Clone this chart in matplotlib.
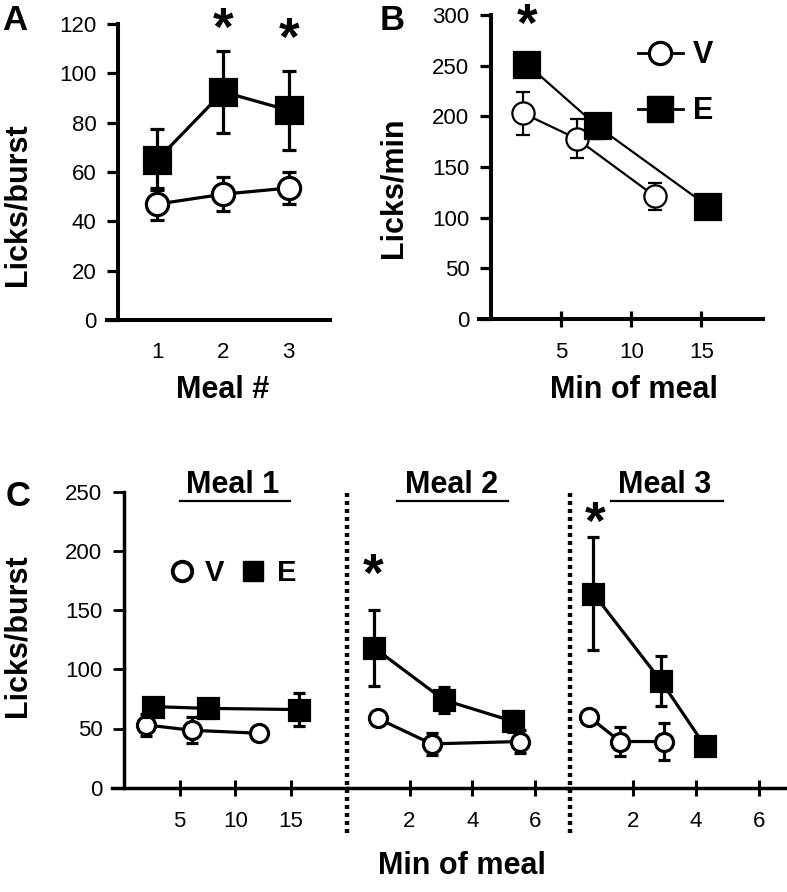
import matplotlib
matplotlib.use('Agg')
import matplotlib.pyplot as plt
from matplotlib.lines import Line2D

plt.rcParams['font.family'] = ['Liberation Sans', 'DejaVu Sans']

# ---- data ----
# A: licks/burst per meal
meal_num = [1, 2, 3]
a_v = [47, 51, 53.5]
a_v_err = [6.5, 7, 6.5]
a_e = [65, 92.5, 85]
a_e_err = [12.5, 16.5, 16]
a_star_x = [2, 3]
a_star_y = [117, 113]

# B: licks/min across the meal
b_v_x = [2.3, 6.1, 11.7]
b_v = [203, 178, 121]
b_v_err = [21, 19, 13]
b_e_x = [2.6, 7.6, 15.5]
b_e = [251, 190, 111]
b_e_err = [5, 12, 8]
b_star_x = [2.6]
b_star_y = [288]

# C: licks/burst within each meal
c_titles = ['Meal 1', 'Meal 2', 'Meal 3']
c_xlims = [(0, 20), (0, 7), (-0.1, 6.9)]
c_xticks = [[5, 10, 15], [2, 4, 6], [2, 4, 6]]
c_v_x = [[2.0, 6.1, 12.1], [0.99, 2.7, 5.5], [0.6, 1.6, 3.0]]
c_v = [[53, 48.5, 46], [58.5, 37, 39], [60, 39, 39]]
c_v_err = [[9, 11, 3], [3, 9, 10], [3, 12.5, 16]]
c_e_x = [[2.6, 7.5, 15.7], [0.88, 3.1, 5.3], [0.75, 2.9, 4.3]]
c_e = [[68.5, 67, 66], [118, 74, 56], [164, 90, 35]]
c_e_err = [[5, 8, 14], [32, 11, 9], [48, 21, 3]]
c_star_x = [[], [0.83], [0.8]]
c_star_y = [[], [178], [222]]

W, H = 787, 892
fig = plt.figure(figsize=(W / 100, H / 100), dpi=100)
LAB = dict(fontsize=22, fontweight='bold', ha='center', va='center')


def px_axes(x0, x1, y_top, y_bot):
    return fig.add_axes([x0 / W, 1 - y_bot / H, (x1 - x0) / W, (y_bot - y_top) / H])


def px_text(x, y, s, **kw):
    fig.text(x / W, 1 - y / H, s, **kw)


def style(ax, spw, left=True):
    for s in ['top', 'right']:
        ax.spines[s].set_visible(False)
    ax.spines['bottom'].set_linewidth(spw)
    ax.spines['left'].set_linewidth(spw)
    ax.spines['left'].set_visible(left)
    ax.tick_params(axis='y', direction='out', length=8, width=spw * 0.8,
                   labelsize=16, pad=7.5)
    ax.set_facecolor('none')


def series(ax, x, y, err, marker, fill, ms, lw, cap, z):
    ax.errorbar(x, y, yerr=err, fmt='none', ecolor='k', elinewidth=lw,
                capsize=cap, capthick=lw, zorder=z)
    ax.plot(x, y, '-', color='k', lw=lw, marker=marker, ms=ms, mfc=fill,
            mec='k', mew=lw, zorder=z + 0.5, clip_on=False)


def stars(ax, xs, ys, size=38):
    for x, y in zip(xs, ys):
        ax.text(x, y, '*', ha='center', va='center', fontsize=size,
                fontweight='bold')


# 1. Panel A
axA = px_axes(118, 330, 24, 320)
style(axA, 2.9)
series(axA, meal_num, a_v, a_v_err, 'o', 'white', 16, 2.3, 5, 3)
series(axA, meal_num, a_e, a_e_err, 's', 'black', 19, 2.3, 5, 3)
axA.set_xlim(0.4, 3.63)
axA.set_ylim(0, 120)
axA.set_yticks(range(0, 121, 20))
axA.set_xticks(meal_num)
axA.tick_params(axis='x', length=0, labelsize=16, pad=16)
axA.spines['bottom'].set_bounds(0.23, 3.63)
stars(axA, a_star_x, a_star_y)
px_text(18, 205, 'Licks/burst', rotation=90, **LAB)
px_text(223, 390, 'Meal #', **LAB)
px_text(15, 21, 'A', fontsize=25, fontweight='bold', ha='center', va='center')

# 2. Panel B
axB = px_axes(491, 763, 15, 319)
style(axB, 2.9)
series(axB, b_v_x, b_v, b_v_err, 'o', 'white', 16, 1.6, 5, 3)
series(axB, b_e_x, b_e, b_e_err, 's', 'black', 19, 1.6, 5, 3)
axB.set_xlim(0, 19.4)
axB.set_ylim(0, 300)
axB.set_yticks(range(0, 301, 50))
axB.set_xticks([5, 10, 15])
axB.tick_params(axis='x', direction='inout', length=11, width=2.3,
                labelsize=16, pad=11)
axB.spines['bottom'].set_bounds(-0.85, 19.4)
stars(axB, b_star_x, b_star_y)
hv = Line2D([], [], color='k', lw=2, marker='o', ms=16, mfc='white', mec='k', mew=2.3)
he = Line2D([], [], color='k', lw=2, marker='s', ms=19, mfc='black', mec='k')
axB.legend([hv, he], ['V', 'E'], loc='center', bbox_to_anchor=(0.68, 0.775),
           frameon=False, handlelength=1.45, handletextpad=0.35,
           labelspacing=0.85, prop={'size': 22, 'weight': 'bold'})
px_text(393, 188, 'Licks/min', rotation=90, **LAB)
px_text(634, 390, 'Min of meal', **LAB)
px_text(392, 21, 'B', fontsize=25, fontweight='bold', ha='center', va='center')

# 3. Panel C, three meals side by side on one shared y scale
bounds = [(124, 346.7), (346.7, 566.7), (566.7, 787)]
title_pos = [0.49, 0.477, 0.446]
line_pos = [(0.251, 0.745), (0.227, 0.735), (0.201, 0.708)]
axesC = []
for i in range(3):
    ax = px_axes(bounds[i][0], bounds[i][1], 491.7, 787.7)
    style(ax, 2.5, left=(i == 0))
    series(ax, c_v_x[i], c_v[i], c_v_err[i], 'o', 'white', 13, 2.3, 4, 3)
    series(ax, c_e_x[i], c_e[i], c_e_err[i], 's', 'black', 14.5, 2.3, 4, 3)
    ax.set_xlim(*c_xlims[i])
    ax.set_ylim(0, 250)
    ax.set_xticks(c_xticks[i])
    ax.tick_params(axis='x', direction='inout', length=11, width=2.2,
                   labelsize=16, pad=11)
    if i == 0:
        ax.set_yticks(range(0, 251, 50))
        ax.spines['bottom'].set_bounds(-1.05, 20)
    else:
        ax.set_yticks([])
        ax.axvline(0, ymin=-0.153, ymax=0.996, color='k', lw=3.2,
                   ls=(0, (0.9, 0.9)), clip_on=False, zorder=1)
    ax.text(title_pos[i], 1.022, c_titles[i], transform=ax.transAxes,
            ha='center', va='center', fontsize=22, fontweight='bold')
    ax.plot(line_pos[i], [0.97, 0.97], color='k', lw=1.6,
            transform=ax.transAxes, clip_on=False)
    stars(ax, c_star_x[i], c_star_y[i])
    axesC.append(ax)

cv = Line2D([], [], ls='none', marker='o', ms=14, mfc='white', mec='k', mew=2.8)
ce = Line2D([], [], ls='none', marker='s', ms=15, mfc='black', mec='k')
axesC[0].legend([cv, ce], ['V', 'E'], loc='center', bbox_to_anchor=(0.49, 0.724),
                ncol=2, frameon=False, handlelength=0.8, handletextpad=0.4,
                columnspacing=0.6, prop={'size': 21, 'weight': 'bold'})
px_text(18, 636, 'Licks/burst', rotation=90, **LAB)
px_text(462, 866, 'Min of meal', **LAB)
px_text(18, 497, 'C', fontsize=25, fontweight='bold', ha='center', va='center')

fig.savefig('out.png', dpi=100)
